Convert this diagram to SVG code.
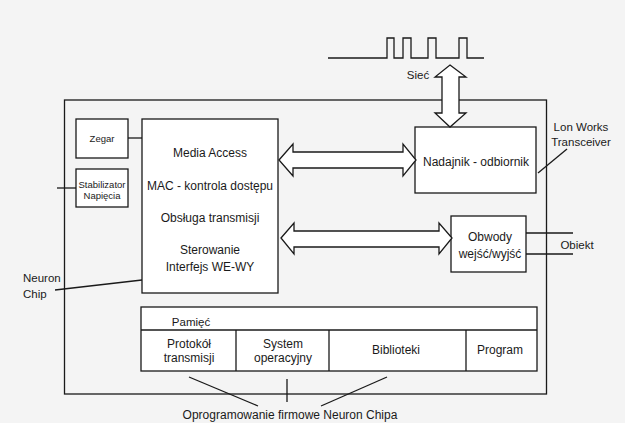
<svg xmlns="http://www.w3.org/2000/svg" width="625" height="423" viewBox="0 0 625 423">
<style>
.b{fill:#fff;stroke:#1a1a1a;stroke-width:1.3}
.l{fill:none;stroke:#1a1a1a;stroke-width:1.3}
.a{fill:#fff;stroke:#1a1a1a;stroke-width:1.3;stroke-linejoin:miter}
text{font-family:"Liberation Sans",Arial,sans-serif;fill:#1a1a1a;text-anchor:middle}
.t12{font-size:12px}
.t11{font-size:11.5px}
.t10{font-size:9.5px}
</style>
<rect x="0" y="0" width="625" height="423" fill="#f4f4f4"/>
<g id="signal">
<polyline class="l" points="328,58 387,58 387,38 394,38 394,58 403,58 403,38 411,38 411,58 428,58 428,38 436,38 436,58 459,58 459,38 467,38 467,58 484,58"/>
<text class="t11" x="418" y="79">Sieć</text>
</g>
<g id="neuron-chip">
<rect class="l" x="64.5" y="100" width="482" height="294"/>
<text class="t11" x="23" y="282" style="text-anchor:start">Neuron</text>
<text class="t11" x="23" y="298" style="text-anchor:start">Chip</text>
</g>
<g id="zegar">
<rect class="b" x="76" y="119" width="52" height="39"/>
<text class="t10" x="102" y="141.5">Zegar</text>
</g>
<g id="stabilizator">
<rect class="b" x="76" y="169" width="52" height="38"/>
<text class="t10" x="102" y="187.5">Stabilizator</text>
<text class="t10" x="102" y="198.5">Napięcia</text>
</g>
<g id="mac">
<rect class="b" x="142" y="119" width="136" height="174"/>
<text class="t12" x="210" y="157">Media Access</text>
<text class="t12" x="210" y="190">MAC - kontrola dostępu</text>
<text class="t12" x="210" y="222">Obsługa transmisji</text>
<text class="t12" x="210" y="254">Sterowanie</text>
<text class="t12" x="210" y="271">Interfejs WE-WY</text>
</g>
<g id="nadajnik">
<rect class="b" x="415" y="127" width="121" height="66"/>
<text class="t12" x="476" y="166">Nadajnik - odbiornik</text>
</g>
<g id="lonworks">
<text class="t11" x="581" y="131">Lon Works</text>
<text class="t11" x="581" y="146">Transceiver</text>
</g>
<g id="obwody">
<rect class="b" x="451" y="216" width="75" height="56"/>
<text class="t12" x="490" y="241">Obwody</text>
<text class="t12" x="490" y="258">wejść/wyjść</text>
</g>
<g id="obiekt">
<text class="t11" x="577" y="249">Obiekt</text>
</g>
<g id="pamiec">
<rect class="b" x="141" y="307" width="396" height="64"/>
<line class="l" x1="141" y1="330" x2="537" y2="330"/>
<line class="l" x1="236" y1="330" x2="236" y2="371"/>
<line class="l" x1="329" y1="330" x2="329" y2="371"/>
<line class="l" x1="466" y1="330" x2="466" y2="371"/>
<text class="t11" x="191" y="326">Pamięć</text>
<text class="t12" x="189" y="348">Protokół</text>
<text class="t12" x="189" y="362">transmisji</text>
<text class="t12" x="283" y="348">System</text>
<text class="t12" x="283" y="362">operacyjny</text>
<text class="t12" x="396" y="354">Biblioteki</text>
<text class="t12" x="500" y="354">Program</text>
</g>
<g id="oprogramowanie">
<text class="t12" x="290" y="419">Oprogramowanie firmowe Neuron Chipa</text>
</g>
<g id="connectors">
<line class="l" x1="128" y1="138" x2="142" y2="138"/>
<line class="l" x1="57" y1="188" x2="76" y2="188"/>
<line class="l" x1="55" y1="290" x2="142" y2="280"/>
<line class="l" x1="538" y1="173" x2="567" y2="149"/>
<line class="l" x1="526" y1="233" x2="573" y2="233"/>
<line class="l" x1="526" y1="254" x2="573" y2="254"/>
<line class="l" x1="189" y1="377" x2="258" y2="406"/>
<line class="l" x1="287" y1="379" x2="287" y2="402"/>
<line class="l" x1="387" y1="377" x2="321" y2="406"/>
<polygon class="a" points="450,65 466,77 459,77 459,113 466,113 450,127 435,113 442,113 442,77 435,77"/>
<polygon class="a" points="279,160 293,144 293,152 403,152 403,144 416,160 403,176 403,168 293,168 293,176"/>
<polygon class="a" points="281,238 294,223 294,231 439,231 439,223 452,238 439,254 439,247 294,247 294,254"/>
</g>
</svg>
